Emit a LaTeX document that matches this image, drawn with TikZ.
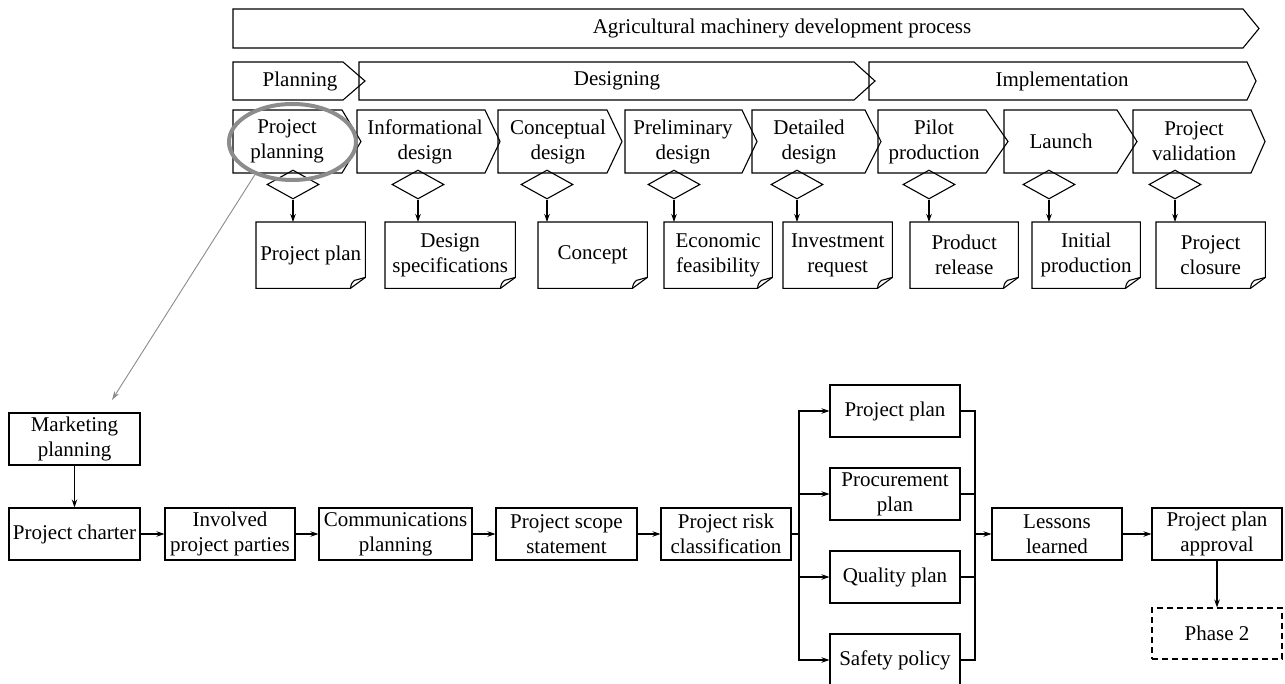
\documentclass[tikz,border=0pt]{standalone}
\usepackage{fontspec}
\setmainfont{Liberation Serif}
\usetikzlibrary{arrows.meta,shapes.geometric}

% outline of a pentagon-arrow shape with a named text node
\newcommand\chev[8]{% name, left, bodyend, tip, top, bottom, text x, text
  \draw[box] (#2,#5) -- (#3,#5) -- (#4,{(#5+#6)/2}) -- (#3,#6) -- (#2,#6) -- cycle;
  \node[lbl] (#1) at (#7,{(#5+#6)/2}) {#8};}

% document shape with folded corner
\newcommand\docnode[6]{% name, L, R, T, B, text
  \node[lbl, minimum width={#3-#2}, minimum height={#5-#4}, inner sep=0pt, anchor=north west] (#1) at (#2,#4) {#6};
  \draw[box] (#1.north west) -- (#1.north east) -- ([yshift=11pt]#1.south east)
     -- ([xshift=-15pt]#1.south east) -- (#1.south west) -- cycle;
  \draw[box] ([xshift=-15pt]#1.south east) .. controls ([xshift=-14pt,yshift=5pt]#1.south east)
     .. ([xshift=-11pt,yshift=8pt]#1.south east) -- ([yshift=11pt]#1.south east);}

\tikzset{
  box/.style={draw=black, line width=1.1pt, line join=miter},
  lbl/.style={font=\fontsize{21}{25}\selectfont, align=center, text=black},
  rbox/.style={box, lbl, minimum height=52pt, inner sep=0pt},
  dia/.style={draw=black, line width=1.1pt, diamond, aspect=1.8, minimum width=52pt, minimum height=29pt, inner sep=0pt},
  arr/.style={line width=1.1pt, -{Stealth[length=8pt,width=5.5pt]}},
  plain/.style={line width=1.1pt},
  garr/.style={draw=gray!90, line width=0.9pt, -{Stealth[length=9pt,width=5.5pt]}},
}

\begin{document}
\begin{tikzpicture}[x=1pt,y=-1pt]
\path[use as bounding box, fill=white] (0,0) rectangle (1285,684);

% banner
\draw[box] (233,9) -- (1243,9) -- (1259,28.5) -- (1243,48) -- (233,48) -- cycle;
\node[lbl] (ban) at (782,28.5) {Agricultural machinery development process};

% phases
\chev{ph1}{233}{343}{365}{62}{100}{300}{Planning}
\chev{ph2}{359}{854}{875}{62}{100}{617}{Designing}
\chev{ph3}{869}{1247}{1256}{62}{100}{1062}{Implementation}

% activities
\chev{a1}{233}{342}{361}{110}{173}{287}{Project\\planning}
\chev{a2}{357}{485}{500}{110}{173}{425}{Informational\\design}
\chev{a3}{498}{607}{622}{110}{173}{558}{Conceptual\\design}
\chev{a4}{625}{742}{757}{110}{173}{683}{Preliminary\\design}
\chev{a5}{752}{865}{881}{110}{173}{809}{Detailed\\design}
\chev{a6}{878}{986}{1008}{110}{173}{934}{Pilot\\production}
\chev{a7}{1004}{1117}{1137}{110}{173}{1061}{Launch}
\chev{a8}{1133}{1251}{1265}{110}{173}{1194}{Project\\validation}

% diamonds
\node[dia] (d1) at (293,184.5) {};
\node[dia] (d2) at (418,184.5) {};
\node[dia] (d3) at (547,184.5) {};
\node[dia] (d4) at (674,184.5) {};
\node[dia] (d5) at (797,184.5) {};
\node[dia] (d6) at (929,184.5) {};
\node[dia] (d7) at (1049,184.5) {};
\node[dia] (d8) at (1175,184.5) {};

% documents
\docnode{p1}{256}{365}{222}{288}{Project plan}
\docnode{p2}{385}{515}{222}{288}{Design\\specifications}
\docnode{p3}{538}{647}{222}{288}{Concept}
\docnode{p4}{664}{772}{222}{288}{Economic\\feasibility}
\docnode{p5}{783}{892}{222}{288}{Investment\\request}
\docnode{p6}{910}{1018}{222}{288}{Product\\release}
\docnode{p7}{1032}{1140}{222}{288}{Initial\\production}
\docnode{p8}{1156}{1265}{222}{288}{Project\\closure}

\foreach \i in {1,...,8}{\draw[arr] (d\i.south) -- (d\i.south |- p\i.north);}

% highlight ellipse
\node[draw=gray!90, line width=4pt, ellipse, minimum width=127pt, minimum height=76pt, inner sep=0pt] (circ) at (292.5,142) {};
\coordinate (gtip) at (112,400);
\draw[garr] (circ.221) -- (gtip);

% lower flow
\node[rbox, minimum width=131pt] (mk) at (74.5,439) {Marketing\\planning};
\node[rbox, minimum width=131pt] (ch) at (74.5,534) {Project charter};
\node[rbox, minimum width=130pt] (inv) at (230,534) {Involved\\project parties};
\node[rbox, minimum width=153pt] (com) at (395.5,534) {Communications\\planning};
\node[rbox, minimum width=141pt] (sc) at (566.5,534) {Project scope\\statement};
\node[rbox, minimum width=130pt] (rk) at (726,534) {Project risk\\classification};
\node[rbox, minimum width=130pt] (pp) at (895,411) {Project plan};
\node[rbox, minimum width=130pt] (pr) at (895,494) {Procurement\\plan};
\node[rbox, minimum width=130pt] (qp) at (895,577) {Quality plan};
\node[rbox, minimum width=130pt] (sp) at (895,660) {Safety policy};
\node[rbox, minimum width=130pt] (ll) at (1057,534) {Lessons\\learned};
\node[rbox, minimum width=130pt] (pa) at (1217,534) {Project plan\\approval};
\node[rbox, dash pattern=on 6pt off 4pt, minimum width=130pt, minimum height=51pt] (ph) at (1217,633.5) {Phase 2};

\draw[arr] (mk) -- (ch);
\draw[arr] (ch) -- (inv);
\draw[arr] (inv) -- (com);
\draw[arr] (com) -- (sc);
\draw[arr] (sc) -- (rk);
\coordinate (fan) at (799,534);
\draw[plain] (rk.east) -- (fan);
\foreach \n in {pp,pr,qp,sp}{\draw[arr] (fan) |- (\n.west);}
\coordinate (mrg) at (975,534);
\foreach \n in {pp,pr,qp,sp}{\draw[plain] (\n.east) -| (mrg);}
\draw[arr] (mrg) -- (ll);
\draw[arr] (ll) -- (pa);
\draw[arr] (pa) -- (ph);
\end{tikzpicture}
\end{document}
